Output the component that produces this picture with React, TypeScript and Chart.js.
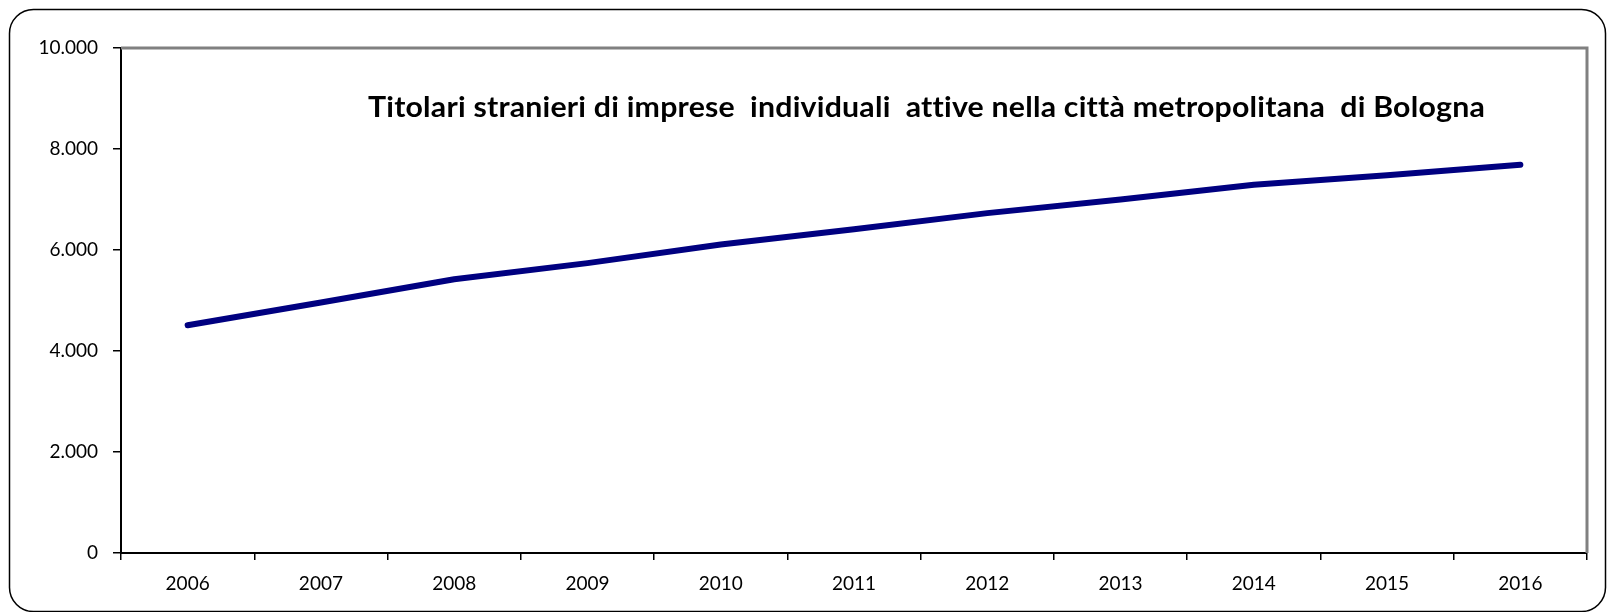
import React, { useEffect, useRef } from "react";
import { Chart, registerables } from "chart.js";

Chart.register(...registerables);

const years = ["2006", "2007", "2008", "2009", "2010", "2011", "2012", "2013", "2014", "2015", "2016"];
const titolari = [4510, 4960, 5420, 5740, 6110, 6410, 6730, 7000, 7290, 7480, 7690];
const yTicks = [0, 2000, 4000, 6000, 8000, 10000];
const chartTitle = "Titolari stranieri di imprese  individuali  attive nella città metropolitana  di Bologna";

const fmt = (v: number) => String(Math.round(v)).replace(/\B(?=(\d{3})+(?!\d))/g, ".");

const framePlugin = {
  id: "frame",
  beforeDraw(chart: any) {
    const ctx = chart.ctx;
    ctx.save();
    ctx.fillStyle = "#ffffff";
    ctx.fillRect(0, 0, chart.width, chart.height);
    ctx.strokeStyle = "#000000";
    ctx.lineWidth = 1.5;
    ctx.beginPath();
    (ctx as any).roundRect(9.5, 9.5, 1596, 602, 24);
    ctx.stroke();
    ctx.restore();
  },
  beforeDatasetsDraw(chart: any) {
    const { ctx, chartArea } = chart;
    ctx.save();
    ctx.strokeStyle = "#808080";
    ctx.lineWidth = 3;
    ctx.beginPath();
    ctx.moveTo(chartArea.left, chartArea.top);
    ctx.lineTo(chartArea.right, chartArea.top);
    ctx.lineTo(chartArea.right, chartArea.bottom);
    ctx.stroke();
    ctx.restore();
  },
  afterDatasetsDraw(chart: any) {
    const { ctx, chartArea } = chart;
    ctx.save();
    ctx.font = "bold 29px Lato";
    (ctx as any).letterSpacing = "0.2px";
    ctx.fillStyle = "#000000";
    ctx.textBaseline = "alphabetic";
    ctx.textAlign = "left";
    const w = ctx.measureText(chartTitle).width;
    const target = 1117;
    const x0 = chartArea.left + 247;
    ctx.translate(x0, 117);
    ctx.scale(target / w, 1);
    ctx.fillText(chartTitle, 0, 0);
    ctx.restore();
  },
};

export default function App() {
  const ref = useRef<HTMLCanvasElement | null>(null);
  useEffect(() => {
    if (!ref.current) return;
    const chart = new Chart(ref.current, {
      type: "line",
      data: {
        labels: years,
        datasets: [
          {
            label: "Titolari",
            data: titolari,
            borderColor: "#000080",
            borderWidth: 6,
            borderCapStyle: "round",
            borderJoinStyle: "round",
            pointRadius: 0,
            tension: 0,
            fill: false,
          },
        ],
      },
      options: {
        responsive: false,
        devicePixelRatio: 1,
        animation: false,
        layout: { padding: { top: 48, right: 20, bottom: 0, left: 0 } },
        plugins: {
          legend: { display: false },
          title: { display: false },
          tooltip: { enabled: false },
        },
        scales: {
          x: {
            offset: true,
            grid: {
              offset: true,
              drawOnChartArea: false,
              drawTicks: true,
              tickLength: 7,
              color: "#000000",
              lineWidth: 1.5,
            },
            border: { display: true, color: "#000000", width: 2 },
            ticks: {
              color: "#000000",
              font: { family: "Lato", size: 19 },
              padding: 12,
              maxRotation: 0,
            },
            afterFit: (s: any) => {
              s.height = 59;
            },
          },
          y: {
            min: 0,
            max: 10000,
            afterBuildTicks: (s: any) => {
              s.ticks = yTicks.map((v) => ({ value: v }));
            },
            grid: {
              drawOnChartArea: false,
              drawTicks: true,
              tickLength: 8,
              color: "#000000",
              lineWidth: 1.5,
            },
            border: { display: true, color: "#000000", width: 2 },
            ticks: {
              color: "#000000",
              font: { family: "Lato", size: 19 },
              padding: 15,
              callback: (v: any) => fmt(Number(v)),
            },
            afterFit: (s: any) => {
              s.width = 121;
            },
          },
        },
      },
      plugins: [framePlugin],
    });
    return () => chart.destroy();
  }, []);
  return (
    <div style={{ position: "fixed", left: 0, top: 0, width: 1607, height: 612, background: "#fff" }}>
      <canvas ref={ref} width={1607} height={612} style={{ width: 1607, height: 612, display: "block" }} />
    </div>
  );
}
